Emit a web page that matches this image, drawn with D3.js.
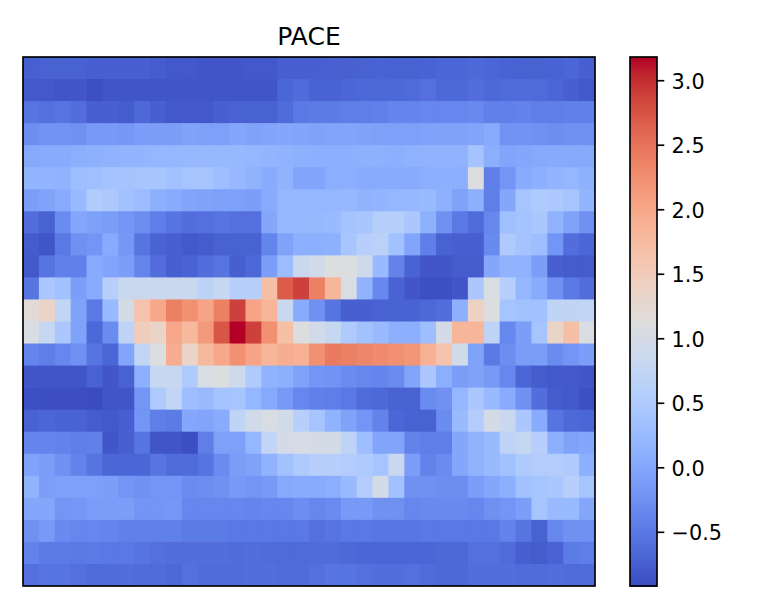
<!DOCTYPE html>
<html>
<head>
<meta charset="utf-8">
<script src="https://cdn.jsdelivr.net/npm/d3@7"></script>
<style>
    body { margin: 0; background: #fff; }
    text { font-family: "DejaVu Sans", sans-serif; fill: #000; }
</style>
</head>
<body>
<svg id="chart" width="761" height="609" style="display:block"></svg>
<script>
const chartTitle = "PACE"
const colorbarTicks = [-0.5, 0, 0.5, 1, 1.5, 2, 2.5, 3]
const valueMin = -0.92
const valueMax = 3.18

// coolwarm stops, evenly spaced
const coolwarm = [
    "rgb(59,76,192)", "rgb(68,90,204)", "rgb(77,104,215)", "rgb(87,117,225)", "rgb(98,130,234)",
    "rgb(108,142,241)", "rgb(119,154,247)", "rgb(130,165,251)", "rgb(141,176,254)", "rgb(152,185,255)",
    "rgb(163,194,255)", "rgb(174,201,253)", "rgb(184,208,249)", "rgb(194,213,244)", "rgb(204,217,238)",
    "rgb(213,219,230)", "rgb(221,221,221)", "rgb(229,216,209)", "rgb(236,211,197)", "rgb(241,204,185)",
    "rgb(245,196,173)", "rgb(247,187,160)", "rgb(247,177,148)", "rgb(247,166,135)", "rgb(244,154,123)",
    "rgb(241,141,111)", "rgb(236,127,99)", "rgb(229,112,88)", "rgb(222,96,77)", "rgb(213,80,66)",
    "rgb(203,62,56)", "rgb(192,40,47)", "rgb(180,4,38)"
]

// one list per row of the grid
const paceRows = [
    [-0.75,-0.72,-0.72,-0.72,-0.75,-0.75,-0.75,-0.75,-0.78,-0.8,-0.8,-0.82,-0.82,-0.82,-0.8,-0.8,-0.75,-0.75,-0.75,-0.73,-0.73,-0.72,-0.7,-0.72,-0.72,-0.7,-0.68,-0.68,-0.65,-0.68,-0.7,-0.72,-0.72,-0.7,-0.68,-0.75],
    [-0.8,-0.8,-0.83,-0.82,-0.88,-0.83,-0.83,-0.83,-0.83,-0.83,-0.85,-0.85,-0.83,-0.83,-0.83,-0.83,-0.68,-0.62,-0.7,-0.7,-0.68,-0.66,-0.66,-0.66,-0.64,-0.58,-0.66,-0.66,-0.6,-0.66,-0.62,-0.62,-0.64,-0.68,-0.75,-0.8],
    [-0.55,-0.58,-0.55,-0.6,-0.75,-0.75,-0.78,-0.66,-0.75,-0.8,-0.8,-0.8,-0.75,-0.72,-0.72,-0.72,-0.62,-0.5,-0.48,-0.48,-0.44,-0.44,-0.42,-0.38,-0.38,-0.35,-0.35,-0.35,-0.33,-0.42,-0.42,-0.4,-0.45,-0.45,-0.42,-0.42],
    [-0.28,-0.22,-0.22,-0.25,-0.15,-0.15,-0.18,-0.1,-0.1,-0.1,-0.05,-0.08,-0.08,0,-0.05,-0.02,0,-0.02,-0.05,-0.02,-0.02,-0.05,-0.08,-0.08,-0.08,-0.06,-0.05,-0.05,-0.02,0.05,-0.22,-0.22,-0.25,-0.28,-0.25,-0.25],
    [0.02,0.05,0.05,0.08,0.12,0.15,0.18,0.18,0.2,0.2,0.22,0.22,0.22,0.22,0.2,0.18,0.15,0.12,0.1,0.1,0.1,0.12,0.12,0.1,0.13,0.15,0.15,0.15,0.38,0.08,-0.02,0,0.02,0.03,0.02,0.02],
    [0.18,0.18,0.15,0.3,0.32,0.38,0.38,0.42,0.42,0.35,0.4,0.4,0.3,0.22,0.15,0.05,0.15,-0.02,-0.02,0.08,0.08,0.05,0.05,0.05,0.05,0.08,0.1,0.08,1.1,-0.45,-0.2,0.05,0.1,0.18,0.2,0.12],
    [-0.1,-0.05,0.05,0.25,0.52,0.48,0.35,0.28,0.1,0.05,-0.02,-0.05,-0.08,-0.08,-0.1,0.05,0.2,0.2,0.2,0.2,0.22,0.15,0.18,0.2,0.22,0.25,0.12,-0.05,0.1,-0.45,0,0.4,0.5,0.48,0.4,0.18],
    [-0.6,-0.72,-0.3,0,-0.08,-0.12,-0.2,-0.28,-0.45,-0.55,-0.6,-0.58,-0.55,-0.58,-0.58,0,0.2,0.22,0.22,0.25,0.38,0.42,0.58,0.58,0.45,0.12,-0.25,-0.5,-0.62,-0.35,0.32,0.38,0.45,0.15,-0.05,-0.25],
    [-0.78,-0.85,-0.5,-0.25,-0.2,0.05,-0.18,-0.55,-0.7,-0.75,-0.8,-0.78,-0.72,-0.72,-0.72,-0.38,-0.05,0.1,0.1,0.12,0.42,0.6,0.65,0.35,-0.02,-0.45,-0.72,-0.75,-0.75,-0.32,0.5,0.38,0.3,-0.2,-0.6,-0.68],
    [-0.8,-0.55,-0.42,-0.42,0.05,-0.02,-0.1,-0.38,-0.6,-0.75,-0.7,-0.6,-0.55,-0.75,-0.65,-0.1,0.28,0.85,0.95,1.1,1.1,0.9,0.25,-0.4,-0.7,-0.82,-0.82,-0.78,-0.78,0,0.15,0.15,-0.1,-0.75,-0.78,-0.78],
    [-0.55,0.45,0.35,-0.1,0.05,0.6,0.85,0.85,0.85,0.85,0.85,0.68,0.8,0.6,0.6,1.7,2.7,2.9,2.4,1.85,1.05,0.15,-0.35,-0.7,-0.82,-0.88,-0.88,-0.82,0.45,1.05,0.6,0.2,0.05,-0.25,-0.5,-0.6],
    [1.2,1.35,0.75,-0.05,-0.5,0.25,1,1.65,2,2.4,2.25,2.05,2.4,2.9,2.05,1.85,0.85,0.05,-0.25,-0.55,-0.75,-0.75,-0.72,-0.72,-0.7,-0.65,-0.6,0.1,1.4,1.12,0.4,0.35,0.35,0.72,0.72,0.75],
    [1.05,0.8,0.45,-0.05,-0.65,-0.3,0.7,1.5,1.35,2,1.8,2.15,2.75,3.18,2.9,2.25,1.7,1.1,0.95,0.8,0.5,0.35,0.25,0.1,0.08,0.3,1,1.85,1.85,0.7,-0.35,-0.1,0.4,1.35,1.7,1.05],
    [-0.38,-0.45,-0.35,-0.25,-0.55,-0.68,-0.02,0.75,1.1,1.95,1.35,1.8,2,2.25,2.05,1.85,1.95,1.9,2.25,2.45,2.4,2.35,2.3,2.25,2.2,1.9,1.65,0.95,-0.05,-0.5,-0.28,-0.12,-0.12,-0.3,-0.2,-0.1],
    [-0.82,-0.84,-0.84,-0.84,-0.72,-0.82,-0.72,0.1,0.8,0.8,0.5,1.05,1.1,0.9,0.5,0.15,0.1,-0.05,-0.2,-0.22,-0.3,-0.35,-0.38,-0.3,-0.02,0.45,0.08,-0.12,-0.05,-0.15,-0.35,-0.68,-0.78,-0.8,-0.8,-0.82],
    [-0.88,-0.9,-0.9,-0.9,-0.92,-0.85,-0.82,-0.2,0.5,0.75,0.3,0.25,0.38,0.4,0.2,0.02,-0.15,-0.35,-0.42,-0.45,-0.5,-0.62,-0.65,-0.72,-0.72,-0.3,-0.25,0.2,0.45,0.25,0.05,-0.25,-0.6,-0.78,-0.8,-0.88],
    [-0.72,-0.68,-0.7,-0.7,-0.78,-0.8,-0.75,-0.2,-0.45,-0.48,0,-0.02,0.05,0.72,0.95,1.05,0.95,0.6,0.4,0.15,-0.05,-0.2,-0.4,-0.68,-0.72,-0.72,-0.3,0.25,0.55,1,0.85,0.45,0.05,-0.55,-0.65,-0.68],
    [-0.38,-0.38,-0.4,-0.45,-0.42,-0.82,-0.75,-0.55,-0.85,-0.85,-0.9,-0.45,-0.08,-0.08,0.2,0.75,1,1.02,1,0.98,0.7,0.3,-0.02,-0.02,-0.4,-0.45,-0.45,0,0.15,0.25,0.7,0.78,0.6,0.1,-0.05,0],
    [-0.05,-0.1,-0.25,-0.4,-0.55,-0.68,-0.68,-0.68,-0.55,-0.62,-0.62,-0.55,-0.3,-0.1,-0.05,0.15,0.35,0.5,0.6,0.6,0.55,0.5,0.4,0.85,-0.1,-0.4,-0.3,0,0.15,0.25,0.35,0.5,0.55,0.55,0.5,0.1],
    [0.15,-0.1,-0.08,-0.08,-0.08,-0.1,-0.2,-0.25,-0.2,-0.2,-0.3,-0.28,-0.25,-0.15,-0.2,-0.15,0.02,0.05,0.05,0.08,0.25,0.55,1,0.35,-0.25,-0.25,-0.28,-0.28,-0.1,0,0.1,0.35,0.4,0.45,0.6,0.4],
    [0,0,-0.2,-0.18,-0.12,-0.12,-0.12,-0.2,-0.2,-0.18,-0.35,-0.35,-0.35,-0.35,-0.38,-0.35,-0.35,-0.28,-0.35,-0.3,-0.15,-0.15,-0.25,-0.25,-0.35,-0.32,-0.32,-0.32,-0.35,-0.25,-0.2,-0.1,0.4,0.25,0.25,0],
    [-0.25,-0.15,-0.32,-0.35,-0.35,-0.38,-0.42,-0.42,-0.42,-0.42,-0.48,-0.48,-0.48,-0.5,-0.5,-0.5,-0.5,-0.5,-0.58,-0.55,-0.5,-0.5,-0.52,-0.52,-0.52,-0.5,-0.5,-0.5,-0.5,-0.5,-0.4,-0.55,-0.72,-0.35,-0.25,-0.25],
    [-0.4,-0.48,-0.48,-0.5,-0.48,-0.5,-0.5,-0.55,-0.58,-0.6,-0.6,-0.6,-0.6,-0.62,-0.6,-0.62,-0.64,-0.64,-0.62,-0.62,-0.65,-0.68,-0.68,-0.68,-0.68,-0.68,-0.66,-0.66,-0.58,-0.58,-0.62,-0.75,-0.78,-0.7,-0.48,-0.45],
    [-0.58,-0.55,-0.55,-0.58,-0.62,-0.62,-0.6,-0.62,-0.62,-0.65,-0.58,-0.62,-0.62,-0.62,-0.6,-0.6,-0.62,-0.62,-0.58,-0.55,-0.55,-0.58,-0.6,-0.6,-0.58,-0.62,-0.65,-0.65,-0.6,-0.6,-0.6,-0.62,-0.62,-0.6,-0.62,-0.62]
]

const plot = { left: 23, right: 595, top: 57, bottom: 586 }
const bar = { left: 630, right: 657 }

const svg = d3.select("#chart")

const color = d3.scaleSequential(d3.piecewise(d3.interpolateRgb, coolwarm))
    .domain([valueMin, valueMax])

const x = d3.scaleBand().domain(d3.range(paceRows[0].length)).range([plot.left, plot.right])
const y = d3.scaleBand().domain(d3.range(paceRows.length)).range([plot.top, plot.bottom])

const defs = svg.append("defs")
defs.append("clipPath").attr("id", "plot-clip")
    .append("rect")
    .attr("x", plot.left).attr("y", plot.top)
    .attr("width", plot.right - plot.left).attr("height", plot.bottom - plot.top)

// the reference cells have slightly soft edges
const soft = defs.append("filter").attr("id", "soft")
    .attr("filterUnits", "userSpaceOnUse")
    .attr("x", 0).attr("y", 0).attr("width", 761).attr("height", 609)
soft.append("feGaussianBlur").attr("stdDeviation", 0.7)

const cells = svg.append("g")
    .attr("clip-path", "url(#plot-clip)")
    .append("g")
    .attr("filter", "url(#soft)")

// each cell runs 1px under its right and lower neighbours so no seams show
paceRows.forEach((row, r) => {
    cells.selectAll(null)
        .data(row)
        .join("rect")
        .attr("x", (d, c) => x(c) - (c === 0 ? 3 : 0))
        .attr("y", y(r) - (r === 0 ? 3 : 0))
        .attr("width", (d, c) => x.bandwidth() + (c === 0 || c === row.length - 1 ? 4 : 1))
        .attr("height", y.bandwidth() + (r === 0 || r === paceRows.length - 1 ? 4 : 1))
        .attr("fill", d => color(d))
})

svg.append("rect")
    .attr("x", plot.left).attr("y", plot.top)
    .attr("width", plot.right - plot.left).attr("height", plot.bottom - plot.top)
    .attr("fill", "none").attr("stroke", "#000").attr("stroke-width", 1.67)

svg.append("text")
    .attr("x", (plot.left + plot.right) / 2)
    .attr("y", 44.5)
    .attr("text-anchor", "middle")
    .style("font-size", "25px")
    .text(chartTitle)

// colorbar
const barScale = d3.scaleLinear().domain([valueMin, valueMax]).range([plot.bottom, plot.top])
const levels = d3.range(256).map(i => valueMin + (valueMax - valueMin) * i / 255)
const levelHeight = (plot.bottom - plot.top) / levels.length

svg.append("g")
    .selectAll("rect")
    .data(levels)
    .join("rect")
    .attr("x", bar.left)
    .attr("width", bar.right - bar.left)
    .attr("y", (d, i) => plot.bottom - (i + 1) * levelHeight)
    .attr("height", levelHeight + 1)
    .attr("fill", d => color(d))

svg.append("rect")
    .attr("x", bar.left).attr("y", plot.top)
    .attr("width", bar.right - bar.left).attr("height", plot.bottom - plot.top)
    .attr("fill", "none").attr("stroke", "#000").attr("stroke-width", 1.67)

const barAxis = svg.append("g")
    .attr("transform", `translate(${bar.right},0)`)
    .call(d3.axisRight(barScale)
        .tickValues(colorbarTicks)
        .tickSize(7.3)
        .tickPadding(7.3)
        .tickFormat(d3.format(".1f")))

barAxis.select(".domain").remove()
barAxis.selectAll("line").attr("stroke", "#000").attr("stroke-width", 1.67)
barAxis.selectAll("text")
    .attr("dy", "0.38em")
    .style("font-family", '"DejaVu Sans", sans-serif')
    .style("font-size", "20.8px")
</script>
</body>
</html>
